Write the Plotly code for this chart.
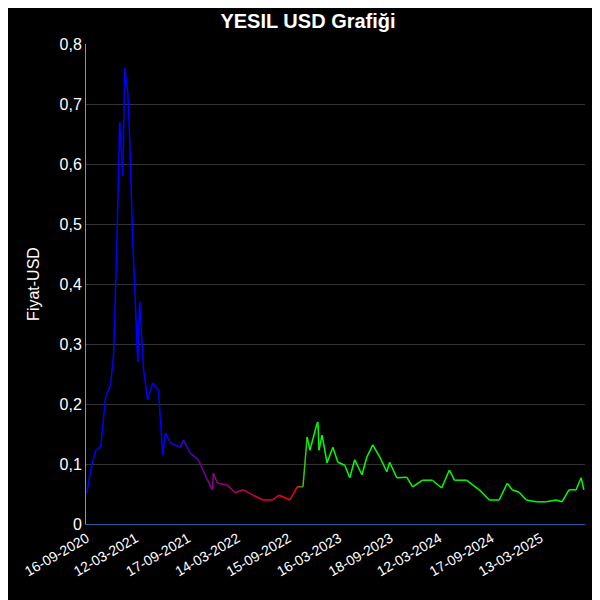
import numpy as np
import pandas as pd
import plotly.graph_objects as go

# ---------------------------------------------------------------------------
# Data
# ---------------------------------------------------------------------------
start = pd.Timestamp("2020-09-16")
day_offsets = [0, 14, 32, 50, 68, 86, 97, 108, 119, 130, 137, 148, 155, 166, 173,
               184, 191, 205, 220, 238, 259, 274, 284, 302, 338, 349, 374, 403, 436,
               454, 457, 472, 508, 536, 565, 601, 637, 670, 695, 734, 760, 781, 796,
               806, 832, 835, 839, 850, 868, 889, 907, 932, 950, 968, 994, 1012, 1033,
               1058, 1084, 1094, 1120, 1156, 1177, 1213, 1249, 1282, 1310, 1328, 1372,
               1418, 1454, 1490, 1519, 1537, 1562, 1588, 1624, 1660, 1696, 1717, 1742,
               1768, 1786, 1796]
prices = [0.052, 0.09, 0.123, 0.128, 0.212, 0.232, 0.285, 0.46, 0.67, 0.58, 0.76,
          0.72, 0.64, 0.47, 0.395, 0.27, 0.37, 0.257, 0.207, 0.235, 0.223, 0.115,
          0.152, 0.135, 0.128, 0.14, 0.118, 0.107, 0.073, 0.057, 0.085, 0.068, 0.065,
          0.052, 0.057, 0.048, 0.04, 0.04, 0.048, 0.04, 0.062, 0.062, 0.145, 0.123,
          0.168, 0.17, 0.123, 0.148, 0.102, 0.128, 0.103, 0.098, 0.077, 0.107, 0.082,
          0.112, 0.132, 0.112, 0.087, 0.103, 0.077, 0.078, 0.062, 0.073, 0.073, 0.06,
          0.09, 0.073, 0.073, 0.057, 0.04, 0.04, 0.068, 0.057, 0.053, 0.04, 0.037,
          0.037, 0.04, 0.037, 0.057, 0.057, 0.077, 0.057]
tick_labels = ["16-09-2020", "12-03-2021", "17-09-2021", "14-03-2022", "15-09-2022",
               "16-03-2023", "18-09-2023", "12-03-2024", "17-09-2024", "13-03-2025"]

dates = [start + pd.Timedelta(days=d) for d in day_offsets]
tick_dates = pd.to_datetime(tick_labels, format="%d-%m-%Y")

# colour stops along the time axis (day offset -> rgb)
stop_days = [0, 270, 420, 600, 740, 790, 1900]
stop_rgb = np.array([[0, 0, 255], [0, 0, 255], [128, 0, 160], [220, 0, 60],
                     [255, 0, 0], [0, 255, 0], [0, 255, 0]], dtype=float)


def colour_at(day):
    rgb = [np.interp(day, stop_days, stop_rgb[:, i]) for i in range(3)]
    return "rgb({:.0f},{:.0f},{:.0f})".format(*rgb)


fig = go.Figure()
for i in range(len(dates) - 1):
    fig.add_trace(go.Scatter(
        x=dates[i:i + 2], y=prices[i:i + 2], mode="lines",
        line=dict(color=colour_at(day_offsets[i]), width=1.5),
        showlegend=False, hoverinfo="skip",
    ))

fig.update_layout(
    width=600, height=600,
    paper_bgcolor="black", plot_bgcolor="black",
    font=dict(family="Liberation Sans, Arial", color="white", size=16),
    title=dict(text="<b>YESIL USD Grafiği</b>", x=0.5, y=0.99, font=dict(size=20)),
    separators=",.",
    margin=dict(l=78, r=23, t=36, b=84),
    xaxis=dict(
        tickvals=tick_dates, ticktext=tick_labels, tickangle=-30,
        range=[start - pd.Timedelta(days=3), start + pd.Timedelta(days=1800)],
        showgrid=False, showline=True, linecolor="#1f5f9f", zeroline=False,
        tickfont=dict(size=14),
    ),
    yaxis=dict(
        range=[0, 0.8], dtick=0.1, tickformat=".1~f",
        title=dict(text="Fiyat-USD", font=dict(size=16)),
        gridcolor="#333333", showline=True, linecolor="#5f9fcf", zeroline=False,
    ),
)

fig.write_html("out.html")
